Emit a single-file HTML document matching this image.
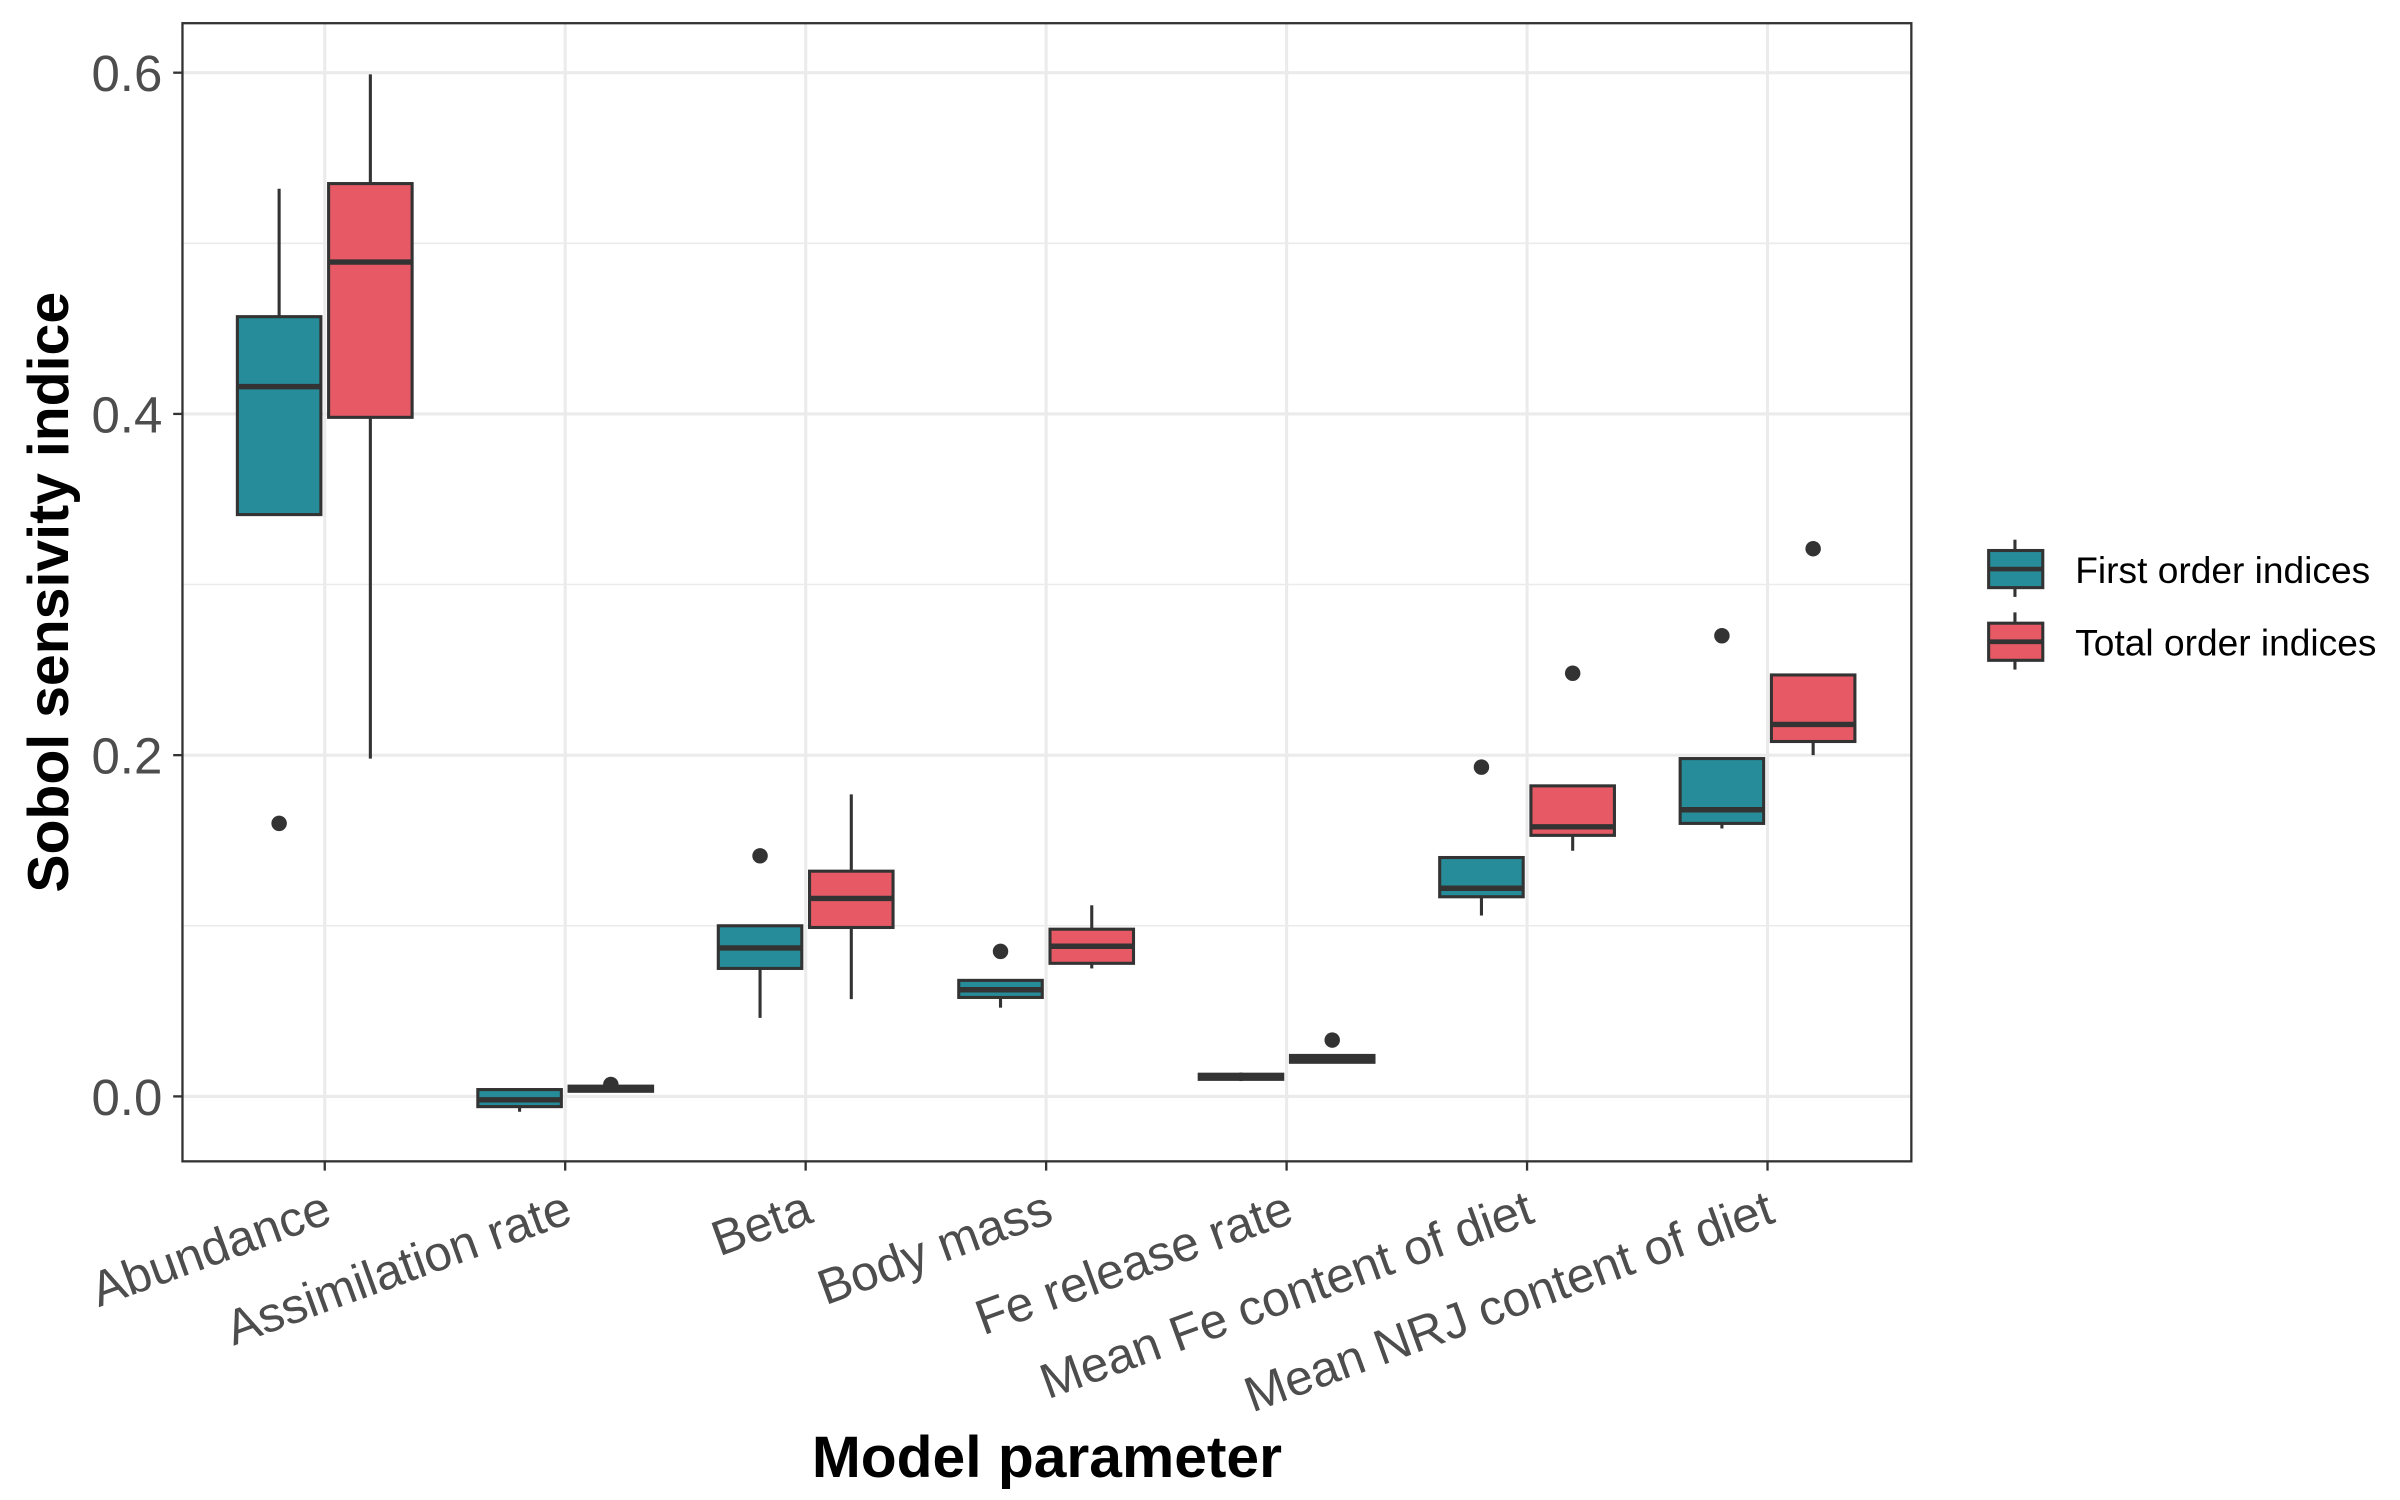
<!DOCTYPE html>
<html><head><meta charset="utf-8"><style>html,body{margin:0;padding:0;background:#fff}svg{display:block}</style></head>
<body>
<svg id="chart" width="2400" height="1500" viewBox="0 0 1552 970" xmlns="http://www.w3.org/2000/svg" font-family="Liberation Sans, Arial, sans-serif">
<rect width="1552" height="970" fill="#fff"/>
<g id="grid"></g>
<g id="marks"></g>
<rect x="118" y="15" width="1118" height="736" fill="none" stroke="#333" stroke-width="1.5"/>
<g id="axes"></g>
<text transform="translate(44,383) rotate(-90)" text-anchor="middle" font-size="37" font-weight="bold" fill="#000">Sobol sensivity indice</text>
<text x="677" y="955" text-anchor="middle" font-size="38" font-weight="bold" fill="#000">Model parameter</text>
<g id="legend">
  <g>
    <line x1="1303" y1="349" x2="1303" y2="386" stroke="#333" stroke-width="2"/>
    <rect x="1286" y="356" width="35" height="24" fill="#268C99" stroke="#333" stroke-width="2"/>
    <line x1="1286" y1="368" x2="1321" y2="368" stroke="#333" stroke-width="3"/>
    <text x="1342" y="377" font-size="24" fill="#000">First order indices</text>
  </g>
  <g>
    <line x1="1303" y1="396" x2="1303" y2="433" stroke="#333" stroke-width="2"/>
    <rect x="1286" y="403" width="35" height="24" fill="#E75A65" stroke="#333" stroke-width="2"/>
    <line x1="1286" y1="415" x2="1321" y2="415" stroke="#333" stroke-width="3"/>
    <text x="1342" y="424" font-size="24" fill="#000">Total order indices</text>
  </g>
</g>
<script>
const categories = ["Abundance","Assimilation rate","Beta","Body mass","Fe release rate","Mean Fe content of diet","Mean NRJ content of diet"];
const yTicks = [0.0, 0.2, 0.4, 0.6];
const yMinorTicks = [0.1, 0.3, 0.5];
// [lowerWhisker, q1, median, q3, upperWhisker]
const firstOrder = [
  [0.341, 0.341, 0.416, 0.457, 0.532],
  [-0.009, -0.006, -0.002, 0.004, 0.004],
  [0.046, 0.075, 0.087, 0.100, 0.100],
  [0.052, 0.058, 0.0625, 0.068, 0.068],
  [0.009, 0.010, 0.011, 0.013, 0.014],
  [0.106, 0.117, 0.122, 0.140, 0.140],
  [0.157, 0.160, 0.168, 0.198, 0.198]
];
const firstOutliers = [[0.160],[],[0.141],[0.085],[],[0.193],[0.270]];
const totalOrder = [
  [0.198, 0.398, 0.489, 0.535, 0.599],
  [0.003, 0.003, 0.005, 0.006, 0.006],
  [0.057, 0.099, 0.116, 0.132, 0.177],
  [0.075, 0.078, 0.088, 0.098, 0.112],
  [0.020, 0.020, 0.022, 0.024, 0.024],
  [0.144, 0.153, 0.158, 0.182, 0.182],
  [0.200, 0.208, 0.218, 0.247, 0.247]
];
const totalOutliers = [[],[0.007],[],[],[0.033],[0.248],[0.321]];

const NS = "http://www.w3.org/2000/svg";
const y = v => 709 - v * 1103.33;
const x = i => 210 + i * 155.5;
function el(tag, attrs, parent) {
  const e = document.createElementNS(NS, tag);
  for (const k in attrs) e.setAttribute(k, attrs[k]);
  parent.appendChild(e);
  return e;
}
const grid = document.getElementById('grid');
const marks = document.getElementById('marks');
const axes = document.getElementById('axes');
yMinorTicks.forEach(v => {
  const l = el('line', {x1:118, x2:1236, y1:y(v), y2:y(v), stroke:'#ebebeb', 'stroke-width':1}, grid);
  
  
});
yTicks.forEach(v => {
  const l = el('line', {x1:118, x2:1236, y1:y(v), y2:y(v), stroke:'#ebebeb', 'stroke-width':2}, grid);
  
  
  const t = el('line', {x1:112, x2:118, y1:y(v), y2:y(v), stroke:'#333', 'stroke-width':1.5}, axes);
  
  
  const tx = el('text', {x:105, y:y(v)+12, 'text-anchor':'end', 'font-size':33, fill:'#4d4d4d'}, axes);
  tx.textContent = v.toFixed(1);
  
  
});
categories.forEach((c, i) => {
  const l = el('line', {x1:x(i), x2:x(i), y1:15, y2:751, stroke:'#ebebeb', 'stroke-width':2}, grid);
  
  
  const t = el('line', {x1:x(i), x2:x(i), y1:751, y2:757, stroke:'#333', 'stroke-width':1.5}, axes);
  
  
  const tx = el('text', {'text-anchor':'end', 'font-size':32, fill:'#4d4d4d', transform:`translate(${x(i)+6},790) rotate(-20)`}, axes);
  tx.textContent = c;
  
  
});
function drawBox(stats, outs, cx, fill, name) {
  const g = el('g', {}, marks);
  
  
  const w = 54;
  el('line', {x1:cx, x2:cx, y1:y(stats[0]), y2:y(stats[4]), stroke:'#333', 'stroke-width':2}, g);
  el('rect', {x:cx-w/2, y:y(stats[3]), width:w, height:Math.max(1, y(stats[1])-y(stats[3])), fill:fill, stroke:'#333', 'stroke-width':2}, g);
  el('line', {x1:cx-w/2, x2:cx+w/2, y1:y(stats[2]), y2:y(stats[2]), stroke:'#333', 'stroke-width':3.5}, g);
  outs.forEach(o => {
    const p = el('circle', {cx:cx, cy:y(o), r:5, fill:'#333'}, g);
    
    
  });
}
categories.forEach((c, i) => {
  drawBox(firstOrder[i], firstOutliers[i], x(i)-29.5, '#268C99', 'box-first-order');
  drawBox(totalOrder[i], totalOutliers[i], x(i)+29.5, '#E75A65', 'box-total-order');
});
</script>
</svg>
</body></html>
